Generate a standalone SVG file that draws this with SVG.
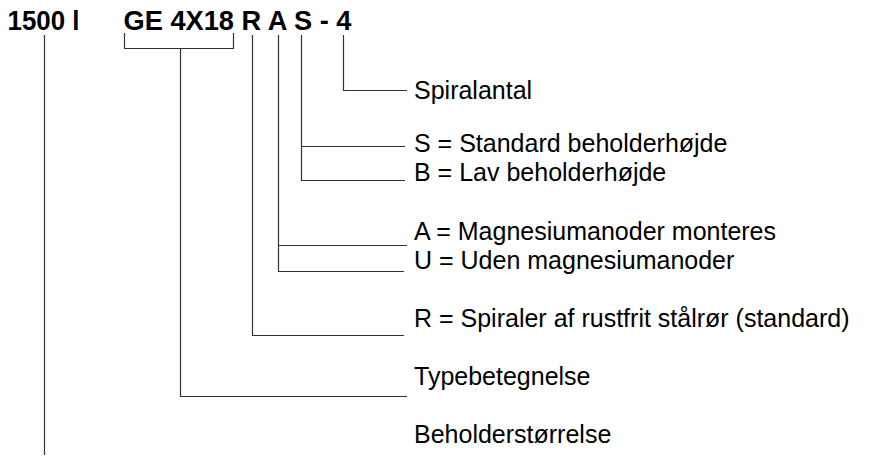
<svg xmlns="http://www.w3.org/2000/svg" width="881" height="456" viewBox="0 0 881 456">
<style>
.h{font-family:"Liberation Sans",Arial,sans-serif;font-weight:bold;font-size:27px;fill:#000}
.t{font-family:"Liberation Sans",Arial,sans-serif;font-size:25px;fill:#000}
.c{fill:none;stroke:#333;stroke-width:1.2}
</style>
<rect width="881" height="456" fill="#fff"/>
<g id="code">
<text class="h" x="7.5" y="30" textLength="72" lengthAdjust="spacingAndGlyphs">1500 l</text>
<text class="h" x="123.5" y="30" textLength="228" lengthAdjust="spacingAndGlyphs">GE 4X18 R A S - 4</text>
</g>
<g id="connectors">
<path class="c" d="M44.5,35 V455"/>
<path class="c" d="M124.5,33 V48.5 H233.5 V33 M180.5,48.5 V396.5 H407"/>
<path class="c" d="M252.5,35 V335.5 H404"/>
<path class="c" d="M278.5,35 V271.5 H404 M278.5,245.5 H407"/>
<path class="c" d="M301.5,35 V180.5 H405 M301.5,146.5 H405"/>
<path class="c" d="M343.5,35 V90.5 H407"/>
</g>
<g id="labels">
<text class="t" x="414" y="99">Spiralantal</text>
<text class="t" x="414" y="152">S = Standard beholderhøjde</text>
<text class="t" x="414" y="181">B = Lav beholderhøjde</text>
<text class="t" x="414" y="240">A = Magnesiumanoder monteres</text>
<text class="t" x="414" y="269">U = Uden magnesiumanoder</text>
<text class="t" x="414" y="327">R = Spiraler af rustfrit stålrør (standard)</text>
<text class="t" x="414" y="385">Typebetegnelse</text>
<text class="t" x="414" y="443">Beholderstørrelse</text>
</g>
</svg>
